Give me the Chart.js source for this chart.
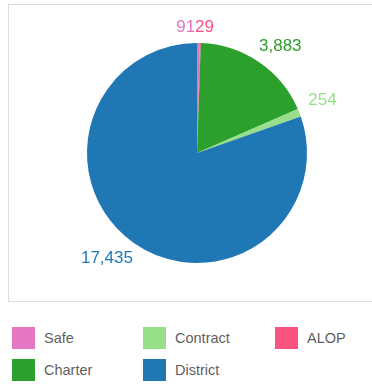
<!DOCTYPE html>
<html>
<head>
<meta charset="utf-8">
<script src="https://cdn.jsdelivr.net/npm/chart.js@4/dist/chart.umd.min.js"></script>
<style>
  html, body { margin: 0; padding: 0; background: #fff; }
  body { width: 372px; height: 385px; position: relative; overflow: hidden;
         font-family: "Liberation Sans", Arial, sans-serif; }
  #frame { position: absolute; left: 8px; top: 4px; width: 380px; height: 298px;
           border: 1px solid #dedede; box-sizing: border-box; }
  #wrap { position: absolute; left: 0; top: 0; width: 372px; height: 310px; }
  #legend { position: absolute; left: 0; top: 327px; width: 372px; height: 58px; }
  .item { position: absolute; display: flex; align-items: center; font-size: 14.5px; color: #5f5f5f; }
  .sw { width: 23px; height: 22px; margin-right: 9px; }
</style>
</head>
<body>
<div id="frame"></div>
<div id="wrap"><canvas id="c" width="372" height="310"></canvas></div>
<div id="legend"></div>
<script>
// Enrollment by school type
const categories = ['Safe', 'ALOP', 'Charter', 'Contract', 'District'];
const counts = [91, 29, 3883, 254, 17435];
const colors = ['#e377c2', '#fb5380', '#2ca02c', '#98df8a', '#1f77b4'];
// legend reading order (three columns)
const legendOrder = ['Safe', 'Contract', 'ALOP', 'Charter', 'District'];

const fmt = v => v.toLocaleString('en-US');

// draws each value just outside its slice, in the slice colour
const outerLabels = {
  id: 'outerLabels',
  afterDatasetsDraw(chart) {
    const ctx = chart.ctx;
    const meta = chart.getDatasetMeta(0);
    const ds = chart.data.datasets[0];
    const turn = -4 * Math.PI / 180;   // labels sit slightly ahead of the slice middle
    const labels = meta.data.map((arc, i) => {
      const p = arc.getProps(['x', 'y', 'startAngle', 'endAngle', 'outerRadius'], true);
      const mid = (p.startAngle + p.endAngle) / 2 + turn;
      const rr = p.outerRadius * 1.12;
      const x = p.x + Math.cos(mid) * rr;
      const y = p.y + Math.sin(mid) * rr;
      return { i, x, y, align: x >= p.x ? 'left' : 'right' };
    });
    // neighbours that land on top of each other are split around their shared point
    for (let k = 0; k < labels.length - 1; k++) {
      const a = labels[k], b = labels[k + 1];
      if (Math.abs(a.x - b.x) < 8 && Math.abs(a.y - b.y) < 8) {
        const mx = (a.x + b.x) / 2 + 4, my = (a.y + b.y) / 2 - 3;
        a.x = mx; b.x = mx; a.y = my; b.y = my;
        a.align = 'right'; b.align = 'left';
      }
    }
    ctx.save();
    ctx.font = '17px "Liberation Sans", Arial, sans-serif';
    ctx.textBaseline = 'middle';
    labels.forEach(l => {
      ctx.fillStyle = ds.backgroundColor[l.i];
      ctx.textAlign = l.align;
      ctx.fillText(fmt(ds.data[l.i]), l.x, l.y);
    });
    ctx.restore();
  }
};

const chart = new Chart(document.getElementById('c'), {
  type: 'pie',
  data: {
    labels: categories,
    datasets: [{ data: counts, backgroundColor: colors, borderWidth: 0 }]
  },
  options: {
    responsive: false,
    animation: false,
    layout: { padding: { left: 87, right: 65, top: 43, bottom: 47 } },
    plugins: { legend: { display: false }, tooltip: { enabled: false } }
  },
  plugins: [outerLabels]
});

// legend grid built from the chart's own labels and colours
const legend = document.getElementById('legend');
const colX = [12, 143, 275];
const rowY = [0, 32];
legendOrder.forEach((name, k) => {
  const i = categories.indexOf(name);
  const item = document.createElement('div');
  item.className = 'item';
  item.style.left = colX[k % 3] + 'px';
  item.style.top = rowY[Math.floor(k / 3)] + 'px';
  item.innerHTML = '<div class="sw" style="background:' + colors[i] + '"></div><span>' + name + '</span>';
  legend.appendChild(item);
});
</script>
</body>
</html>
